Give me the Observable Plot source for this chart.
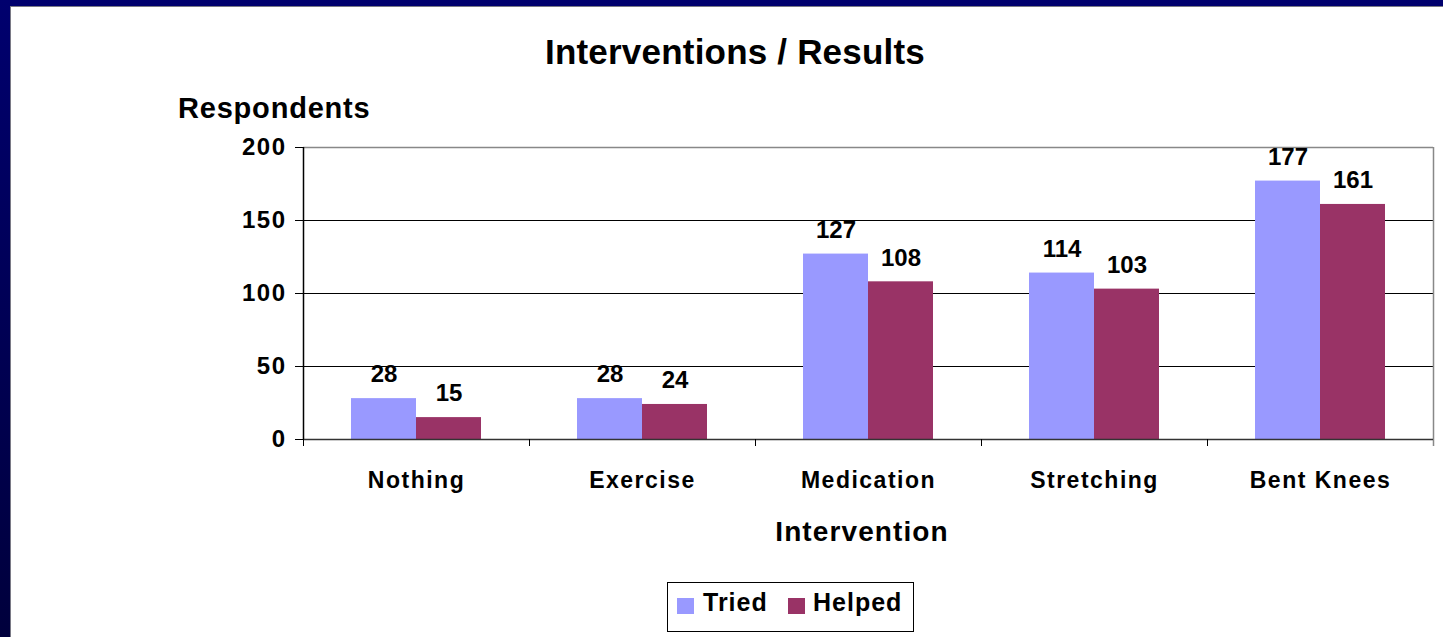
<!DOCTYPE html>
<html>
<head>
<meta charset="utf-8">
<script src="https://cdn.jsdelivr.net/npm/d3@7"></script>
<script src="https://cdn.jsdelivr.net/npm/@observablehq/plot@0.6"></script>
<style>
  html, body { margin: 0; padding: 0; }
  body {
    width: 1443px; height: 637px; overflow: hidden; position: relative;
    background: linear-gradient(to bottom, #00006e, #00003c);
    font-family: "Liberation Sans", Arial, sans-serif; font-weight: bold; color: #000;
  }
  #panel {
    position: absolute; left: 10px; top: 6px; width: 1433px; height: 631px;
    background: #fff; border-left: 1px solid #7a7a86; border-top: 1px solid #7a7a86; box-sizing: border-box;
  }
  #chart { position: absolute; left: 11px; top: 7px; }
  .txt { position: absolute; white-space: nowrap; line-height: 1; }
  #title { font-size: 35px; left: 735px; top: 34px; transform: translateX(-50%); letter-spacing: 0.2px; }
  #ylabel { font-size: 29px; left: 178px; top: 94px; letter-spacing: 0.8px; }
  #xlabel { font-size: 28px; left: 862px; top: 518px; transform: translateX(-50%); letter-spacing: 1.1px; }
  #legend {
    position: absolute; left: 667px; top: 582px; width: 247px; height: 50px;
    border: 1px solid #000; box-sizing: border-box; background: #fff;
  }
  .sw { position: absolute; width: 17px; height: 16px; top: 15px; }
  .lt { position: absolute; font-size: 25px; top: 7px; line-height: 1; letter-spacing: 1px; }
  svg g[aria-label="x-axis tick label"] text { letter-spacing: 1.5px; }
  svg g[aria-label="y-axis tick label"] text { letter-spacing: 1.5px; }
</style>
</head>
<body>
<div id="panel"></div>
<div id="chart"></div>
<div id="title" class="txt">Interventions / Results</div>
<div id="ylabel" class="txt">Respondents</div>
<div id="xlabel" class="txt">Intervention</div>
<div id="legend"></div>
<script>
// ---- Data ----
const categories = ["Nothing", "Exercise", "Medication", "Stretching", "Bent Knees"];
const series = ["Tried", "Helped"];
const tried = [28, 28, 127, 114, 177];
const helped = [15, 24, 108, 103, 161];
const yTicks = [0, 50, 100, 150, 200];
const colors = ["#9999ff", "#993366"];

const rows = [];
categories.forEach((c, i) => {
  rows.push({category: c, series: "Tried", value: tried[i]});
  rows.push({category: c, series: "Helped", value: helped[i]});
});

// ---- Layout ----
const W = 1432, H = 630;
const mL = 292, mR = 10, mT = 140, mB = 198;
const band = (W - mL - mR) / categories.length;
const barW = band * 0.2876;
const gap = (band - 2 * barW) / 2;
const first = categories[0], last = categories[categories.length - 1];

const triedRows = rows.filter(d => d.series === "Tried");
const helpedRows = rows.filter(d => d.series === "Helped");

const chart = Plot.plot({
  width: W, height: H,
  marginLeft: mL, marginRight: mR, marginTop: mT, marginBottom: mB,
  style: {fontFamily: "'Liberation Sans', Arial, sans-serif", fontWeight: "bold", color: "#000", background: "transparent", overflow: "visible"},
  x: {type: "band", domain: categories, padding: 0},
  y: {domain: [0, 200]},
  color: {domain: series, range: colors},
  marks: [
    Plot.ruleY([50, 100, 150], {stroke: "#000", strokeWidth: 1}),
    Plot.ruleY([200], {stroke: "#888", strokeWidth: 1.5}),
    Plot.ruleX([last], {dx: band / 2, stroke: "#888", strokeWidth: 1.5, insetBottom: -7}),
    Plot.barY(triedRows, {x: "category", y: "value", fill: "series", insetLeft: gap, insetRight: gap + barW}),
    Plot.barY(helpedRows, {x: "category", y: "value", fill: "series", insetLeft: gap + barW, insetRight: gap}),
    Plot.text(triedRows, {x: "category", y: "value", text: d => String(d.value), dx: -barW / 2, dy: -24, lineAnchor: "middle", fontSize: 24, fontWeight: "bold", fill: "#000"}),
    Plot.text(helpedRows, {x: "category", y: "value", text: d => String(d.value), dx: barW / 2, dy: -24, lineAnchor: "middle", fontSize: 24, fontWeight: "bold", fill: "#000"}),
    Plot.ruleY([0], {stroke: "#333", strokeWidth: 1.5}),
    Plot.ruleX([first], {dx: -band / 2, stroke: "#000", strokeWidth: 1.5}),
    Plot.axisY({ticks: yTicks, tickSize: 8, tickPadding: 9, fontSize: 24, label: null, stroke: "#000"}),
    Plot.axisX({tickSize: 7, dx: -band / 2, tickFormat: () => "", label: null, stroke: "#000"}),
    Plot.axisX({tickSize: 0, tickPadding: 32, fontSize: 23, label: null})
  ]
});
document.getElementById("chart").appendChild(chart);

// ---- Legend ----
const legend = document.getElementById("legend");
const swX = [9, 120], txX = [35, 145];
series.forEach((s, i) => {
  const sw = document.createElement("div");
  sw.className = "sw"; sw.style.left = swX[i] + "px"; sw.style.background = colors[i];
  legend.appendChild(sw);
  const t = document.createElement("div");
  t.className = "lt"; t.style.left = txX[i] + "px"; t.textContent = s;
  legend.appendChild(t);
});
</script>
</body>
</html>
